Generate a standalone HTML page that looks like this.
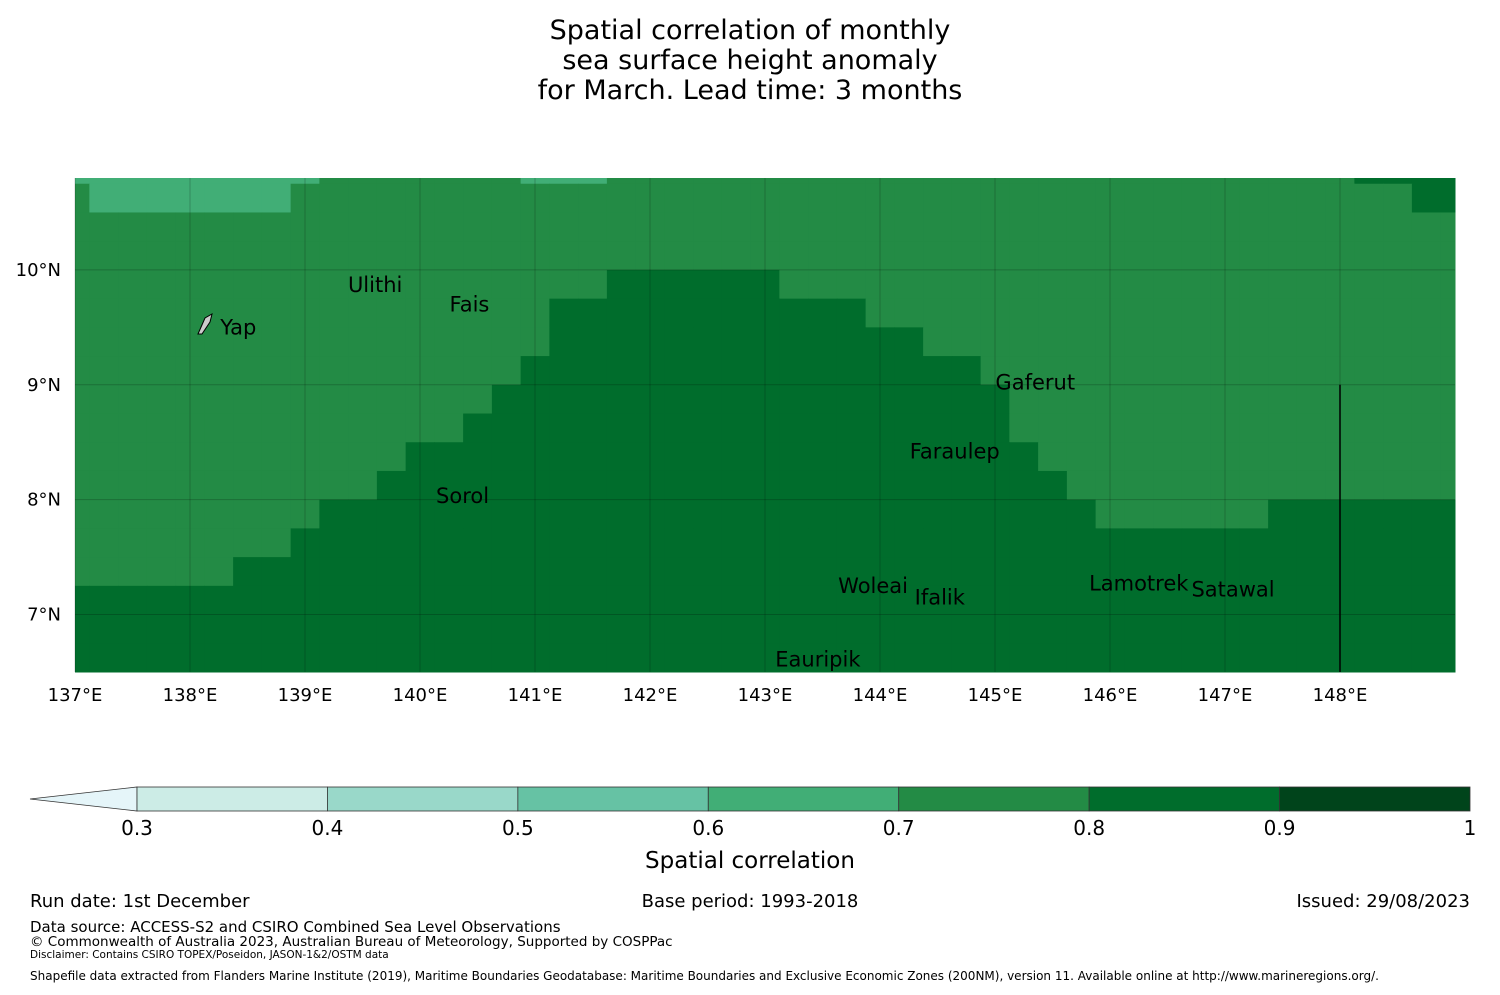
<!DOCTYPE html>
<html><head><meta charset="utf-8"><style>
body{margin:0;background:#fff;}
svg text{font-family:"DejaVu Sans","Liberation Sans",sans-serif;}
</style></head><body>
<svg id="root" width="1500" height="990" xmlns="http://www.w3.org/2000/svg">
<g text-anchor="middle" font-size="27" fill="#000">
<text x="750" y="39">Spatial correlation of monthly</text>
<text x="750" y="69">sea surface height anomaly</text>
<text x="750" y="99">for March. Lead time: 3 months</text>
</g>
<g id="map"></g>
<g id="cbar"></g>
<g font-size="18">
<text x="30" y="907">Run date: 1st December</text>
<text x="750" y="907" text-anchor="middle">Base period: 1993-2018</text>
<text x="1470" y="907" text-anchor="end">Issued: 29/08/2023</text>
<text x="30" y="932" font-size="15">Data source: ACCESS-S2 and CSIRO Combined Sea Level Observations</text>
<text x="30" y="946" font-size="13.5">© Commonwealth of Australia 2023, Australian Bureau of Meteorology, Supported by COSPPac</text>
<text x="30" y="958" font-size="10.5">Disclaimer: Contains CSIRO TOPEX/Poseidon, JASON-1&amp;2/OSTM data</text>
<text x="30" y="980" font-size="12">Shapefile data extracted from Flanders Marine Institute (2019), Maritime Boundaries Geodatabase: Maritime Boundaries and Exclusive Economic Zones (200NM), version 11. Available online at http://www.marineregions.org/.</text>
</g>
</svg>
<script>
// grid rows (top to bottom), 49 columns of 0.25°; codes: 6=0.65, 7=0.75, 8=0.85
const gridRows = [
"6666666667777777666777777777777777777777777778888",
"7666666677777777777777777777777777777777777777788",
"7777777777777777777777777777777777777777777777777",
"7777777777777777777777777777777777777777777777777",
"7777777777777777777888888777777777777777777777777",
"7777777777777777788888888888777777777777777777777",
"7777777777777777788888888888887777777777777777777",
"7777777777777777888888888888888877777777777777777",
"7777777777777778888888888888888887777777777777777",
"7777777777777788888888888888888887777777777777777",
"7777777777778888888888888888888888777777777777777",
"7777777777788888888888888888888888877777777777777",
"7777777778888888888888888888888888887777778888888",
"7777777788888888888888888888888888888888888888888",
"7777778888888888888888888888888888888888888888888",
"8888888888888888888888888888888888888888888888888",
"8888888888888888888888888888888888888888888888888",
"8888888888888888888888888888888888888888888888888"];
const codeValues = {"6":0.65,"7":0.75,"8":0.85};
const lonTicks = [137,138,139,140,141,142,143,144,145,146,147,148];
const latTicks = [10,9,8,7];
const classBounds = [0.3,0.4,0.5,0.6,0.7,0.8,0.9,1.0];
const classColors = ["#ccece6","#99d8c9","#66c2a4","#41ae76","#238b45","#006d2c","#00441b"];
const places = [
 ["Ulithi",139.61,9.87],["Fais",140.43,9.7],["Yap",138.42,9.5],["Gaferut",145.35,9.02],
 ["Faraulep",144.65,8.42],["Sorol",140.37,8.03],["Woleai",143.94,7.25],["Ifalik",144.52,7.15],
 ["Lamotrek",146.25,7.27],["Satawal",147.07,7.22],["Eauripik",143.46,6.61]];
const NS="http://www.w3.org/2000/svg";
const lon0=137,lon1=149,lat0=6.5,lat1=10.8,X0=75,X1=1455,Y0=178,Y1=672;
const xs=l=>X0+(l-lon0)*(X1-X0)/(lon1-lon0);
const ys=l=>Y1-(l-lat0)*(Y1-Y0)/(lat1-lat0);
function colorFor(v){for(let k=0;k<classColors.length;k++){if(v<classBounds[k+1])return classColors[k];}return classColors[classColors.length-1];}
function mk(tag,attrs,parent){const e=document.createElementNS(NS,tag);for(const k in attrs)e.setAttribute(k,attrs[k]);parent.appendChild(e);return e;}
const map=document.getElementById('map');
gridRows.forEach((row,j)=>{
 const latTop=Math.min(11.0-0.25*j,lat1),latBot=Math.max(10.75-0.25*j,lat0);
 for(let i=0;i<row.length;i++){
  const la=Math.max(136.875+0.25*i,lon0),lb=Math.min(137.125+0.25*i,lon1);
  const v=codeValues[row[i]];
  const r=mk('rect',{x:xs(la),y:ys(latTop),width:xs(lb)-xs(la)+0.5,height:ys(latBot)-ys(latTop)+0.5,fill:colorFor(v)},map);
  
  
 }
});
lonTicks.forEach(l=>{
 const g=mk('line',{x1:xs(l),x2:xs(l),y1:Y0,y2:Y1,stroke:"#000","stroke-opacity":0.2,"stroke-width":1},map);
 
 
 const t=mk('text',{x:xs(l),y:701,"text-anchor":"middle","font-size":18},map);t.textContent=l+"°E";
 
 
});
latTicks.forEach(l=>{
 const g=mk('line',{x1:X0,x2:X1,y1:ys(l),y2:ys(l),stroke:"#000","stroke-opacity":0.2,"stroke-width":1},map);
 
 
 const t=mk('text',{x:61,y:ys(l)+6,"text-anchor":"end","font-size":18},map);t.textContent=l+"°N";
 
 
});
const eez=mk('line',{x1:xs(148),x2:xs(148),y1:ys(9),y2:Y1,stroke:"#000","stroke-width":1.5},map);


const yapIcon=mk('path',{d:"M198,334 L205,318 L212,314 L210,322 L202,334 Z",fill:"#ccc",stroke:"#000","stroke-width":1},map);


places.forEach(p=>{
 const t=mk('text',{x:xs(p[1]),y:ys(p[2])+7,"text-anchor":"middle","font-size":21},map);t.textContent=p[0];
 
 
});
const cb=document.getElementById('cbar');
const cx=v=>137+(v-0.3)*(1470-137)/0.7;
const tri=mk('polygon',{points:"30,799 137,787 137,811",fill:"#e5f5f9",stroke:"#333","stroke-width":0.8},cb);


classColors.forEach((c,k)=>{
 const r=mk('rect',{x:cx(classBounds[k]),y:787,width:cx(classBounds[k+1])-cx(classBounds[k]),height:24,fill:c,stroke:"#333","stroke-width":0.8},cb);
 
 
});
classBounds.forEach(v=>{
 const t=mk('text',{x:cx(v),y:835,"text-anchor":"middle","font-size":20},cb);t.textContent=(v===1?"1":v.toFixed(1));
 
 
});
const ct=mk('text',{x:750,y:868,"text-anchor":"middle","font-size":23},cb);ct.textContent="Spatial correlation";


</script>
</body></html>
